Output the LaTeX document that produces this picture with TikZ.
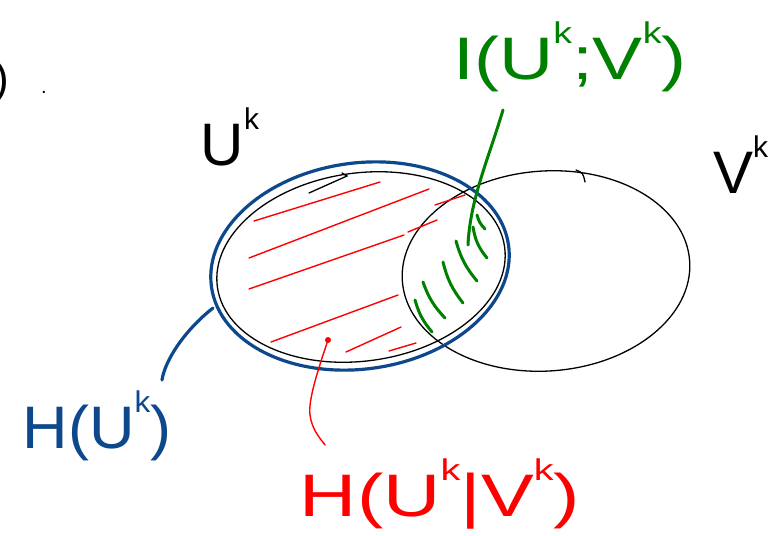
\documentclass[tikz,border=0pt]{standalone}
\usepackage{fontspec}
\setmainfont{Liberation Sans}
\usetikzlibrary{shapes.geometric}
\definecolor{hblue}{RGB}{14,72,140}
\definecolor{hgreen}{RGB}{0,128,0}
\definecolor{hred}{RGB}{255,0,0}
\newcommand\upk{\raisebox{0.6em}{\fontsize{30}{30}\selectfont k}}
\begin{document}
\begin{tikzpicture}[x=1pt,y=-1pt,
  venn/.style={ellipse, draw=black, line width=1.3pt, inner sep=0pt},
  bluering/.style={ellipse, draw=hblue, line width=3.2pt, inner sep=0pt},
  redhatch/.style={draw=hred, line width=1.4pt, line cap=round},
  greenhatch/.style={draw=hgreen, line width=3pt, line cap=round},
  bluelink/.style={draw=hblue, line width=3.2pt, line cap=round},
  redlink/.style={draw=hred, line width=1.4pt, line cap=round},
  greenlink/.style={draw=hgreen, line width=3pt, line cap=round},
  lbl/.style={inner sep=0pt, font=\fontsize{60}{66}\selectfont}]
\useasboundingbox (0,0) rectangle (770,535);
\fill[white] (0,0) rectangle (770,535);

% ellipses
\node[venn, minimum width=290, minimum height=188, rotate=8] (U) at (361,267) {};
\node[venn, minimum width=288, minimum height=200, rotate=4] (V) at (546,271) {};
\node[bluering, minimum width=300, minimum height=206, rotate=8] (HU) at (360,266) {};

% pen stroke details
\draw[line width=1.3pt, line cap=round] (309,193) -- (347,176) -- (342,173);
\draw[line width=1.3pt, line cap=round] (576,170) .. controls (583,173) .. (585,182);

% red hatching
\draw[redhatch] (254,221) -- (380,182);
\draw[redhatch] (249,258) -- (429,189);
\draw[redhatch] (435,205) -- (465,195);
\draw[redhatch] (249,289) -- (404,235);
\draw[redhatch] (408,232) -- (437,220);
\draw[redhatch] (271,342) -- (398,295);
\draw[redhatch] (346,352) -- (401,327);
\draw[redhatch] (389,351) -- (416,343);

% green hatching
\draw[greenhatch] (477,215) to[bend right=15] (485,229);
\draw[greenhatch] (473,227) to[bend right=15] (487,258);
\draw[greenhatch] (456,241) to[bend right=12] (477,281);
\draw[greenhatch] (443,262) to[bend right=12] (463,303);
\draw[greenhatch] (423,282) to[bend right=12] (445,318);
\draw[greenhatch] (415,300) to[bend right=12] (432,332);

% labels
\node[lbl, text=black] (Ulab) at (230,137) {U\upk};
\node[lbl, text=black, anchor=west] (Vlab) at (713,165) {V\upk};
\node[lbl, text=black, anchor=east, font=\fontsize{44}{48}\selectfont] (paren) at (9,82) {)};
\node[lbl, text=black, font=\fontsize{20}{20}\selectfont] (dot) at (44,92) {.};
\node[lbl, text=hgreen, xscale=1.25] (Ilab) at (570,57) {I(U\upk;V\upk)};
\node[lbl, text=hblue, xscale=1.05] (Hlab) at (97,426) {H(U\upk)};
\node[lbl, text=hred, xscale=1.32] (HClab) at (440,494) {H(U\upk|V\upk)};

% connectors
\coordinate (gtop) at (503,110);
\coordinate (gend) at (468,245);
\draw[greenlink] (gtop) .. controls (488,160) and (470,200) .. (gend);

\coordinate (btop) at (213,308);
\coordinate (bend) at (162,380);
\draw[bluelink] (btop) .. controls (185,330) and (165,360) .. (bend);

\coordinate (rdot) at (328,340);
\coordinate (rend) at (325,445);
\fill[hred] (rdot) circle (3);
\draw[redlink] (rdot) .. controls (318,370) and (308,400) .. (310,415) .. controls (312,430) and (320,438) .. (rend);
\end{tikzpicture}
\end{document}
